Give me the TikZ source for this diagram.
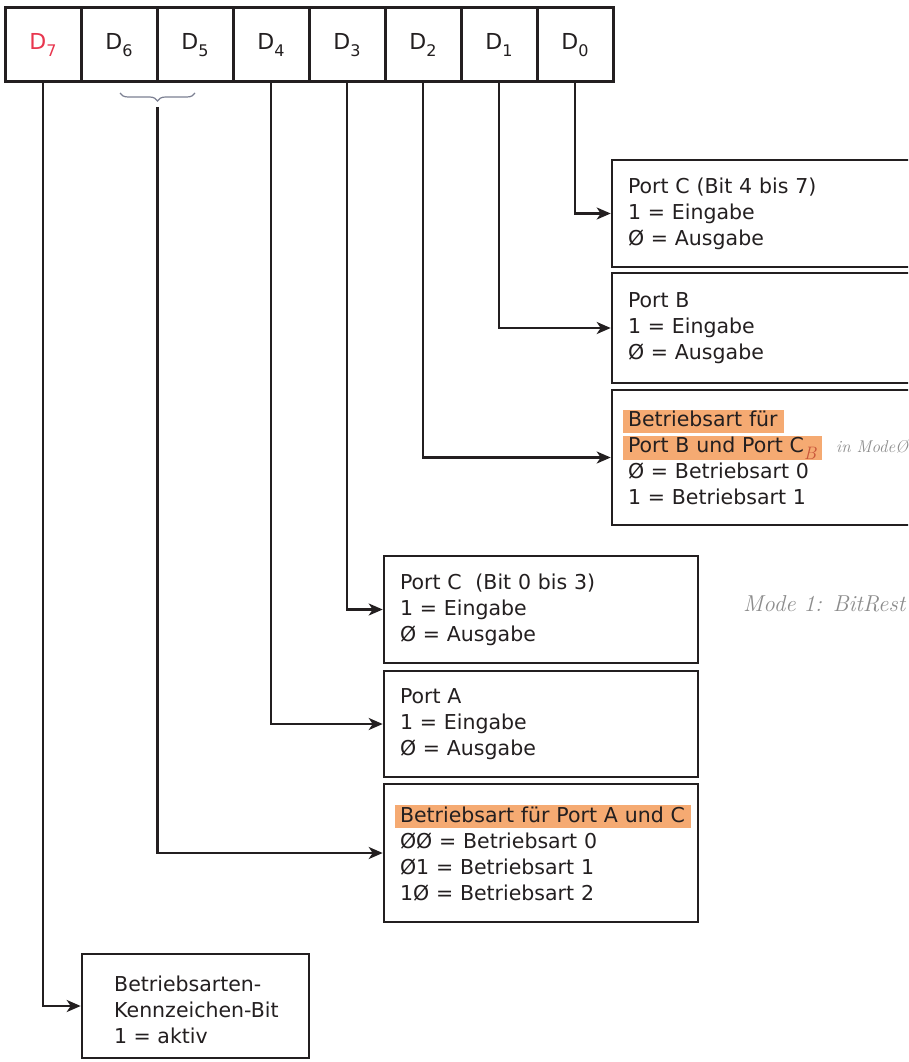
\documentclass[tikz,border=0pt]{standalone}
\usepackage{fontspec}
\newfontfamily\dv{DejaVu Sans}
\usetikzlibrary{arrows.meta,decorations.pathreplacing}
\definecolor{ink}{HTML}{231F20}
\definecolor{dred}{HTML}{E8364E}
\definecolor{hlc}{HTML}{F5AA72}
\definecolor{pencil}{HTML}{8C8C8C}
\definecolor{handc}{HTML}{C8553A}
\definecolor{bracec}{HTML}{7C8092}
\newcommand\hlt[1]{{\setlength{\fboxsep}{0pt}\hspace*{-5pt}\colorbox{hlc}{\hspace*{5pt}\rule[-6pt]{0pt}{23pt}#1\hspace*{6pt}}}}
\newcommand\dsub[1]{\raisebox{-7pt}{\fontsize{16}{16}\selectfont #1}}
\tikzset{
  cell/.style={draw=ink, line width=3pt, minimum width=76pt, minimum height=74pt,
    inner sep=0pt, text=ink, font=\dv\fontsize{22}{24}\selectfont},
  portbox/.style={draw=ink, line width=2.6pt, inner sep=0pt, align=left, text=ink,
    font=\dv\fontsize{20.5}{26}\selectfont},
  plainbox/.style={draw=ink, line width=2.6pt, inner sep=0pt},
  boxtext/.style={inner sep=0pt, align=left, text=ink, font=\dv\fontsize{20.5}{26}\selectfont},
  conn/.style={draw=ink, line width=2.4pt, -{Stealth[length=14pt,width=12pt,inset=4pt]}},
  handnote/.style={text=pencil, inner sep=0pt, font=\rmfamily\itshape},
}
\begin{document}
\begin{tikzpicture}[x=1pt,y=-1pt]
\useasboundingbox (0,0) rectangle (908,1062);
\clip (0,0) rectangle (908,1062);
\fill[white] (0,0) rectangle (908,1062);

% register
\node[cell, text=dred] (d7) at (43,45) {D\dsub{7}};
\node[cell] (d6) at (119,45) {D\dsub{6}};
\node[cell] (d5) at (195,45) {D\dsub{5}};
\node[cell] (d4) at (271,45) {D\dsub{4}};
\node[cell] (d3) at (347,45) {D\dsub{3}};
\node[cell] (d2) at (423,45) {D\dsub{2}};
\node[cell] (d1) at (499,45) {D\dsub{1}};
\node[cell] (d0) at (575,45) {D\dsub{0}};

% brace under D6 D5
\draw[bracec, line width=1.2pt, decorate, decoration={brace, mirror, amplitude=8pt}]
  (120,93) -- (195,93);
\coordinate (b65) at (157.5,107);

% right boxes
\node[portbox, text width=296pt, minimum width=328pt, minimum height=107pt] (pc1) at (776,213.5)
  {Port C (Bit 4 bis 7)\\1 = Eingabe\\Ø = Ausgabe};
\node[portbox, text width=296pt, minimum width=328pt, minimum height=110pt] (pb) at (776,328)
  {Port B\\1 = Eingabe\\Ø = Ausgabe};
\node[portbox, text width=296pt, minimum width=328pt, minimum height=135pt] (bb) at (776,457.5)
  {\hlt{Betriebsart für}\\
   \hlt{Port B und Port C\raisebox{-7pt}{\fontsize{18}{18}\selectfont\color{handc}\rmfamily\itshape B}}\\
   Ø = Betriebsart 0\\1 = Betriebsart 1};

% lower boxes
\node[portbox, text width=282pt, minimum width=314pt, minimum height=107pt] (pc2) at (541,609.5)
  {Port C\ \ (Bit 0 bis 3)\\1 = Eingabe\\Ø = Ausgabe};
\node[portbox, text width=282pt, minimum width=314pt, minimum height=106pt] (pa) at (541,724)
  {Port A\\1 = Eingabe\\Ø = Ausgabe};
\node[portbox, text width=282pt, minimum width=314pt, minimum height=138pt] (ba) at (541,853)
  {\hlt{Betriebsart für Port A und C}\\ØØ = Betriebsart 0\\Ø1 = Betriebsart 1\\1Ø = Betriebsart 2};

% bottom box
\node[plainbox, minimum width=227pt, minimum height=104pt] (kb) at (195.5,1006) {};
\node[boxtext, anchor=west] (kt) at (114,1010) {Betriebsarten-\\Kennzeichen-Bit\\1 = aktiv};

% handwritten notes
\node[handnote, anchor=west, font=\rmfamily\itshape\fontsize{17}{17}\selectfont] (n1) at (836,447) {in ModeØ};
\node[handnote, anchor=west, font=\rmfamily\itshape\fontsize{23}{23}\selectfont] (n2) at (743,604) {Mode 1: BitRest};

% connectors
\draw[conn] (d0.south) |- (pc1.west);
\draw[conn] (d1.south) |- (pb.west);
\draw[conn] (d2.south) |- (bb.west);
\draw[conn] (d3.south) |- (pc2.west);
\draw[conn] (d4.south) |- (pa.west);
\draw[conn] (b65) |- (ba.west);
\draw[conn] (d7.south) |- (kb.west);
\end{tikzpicture}
\end{document}
